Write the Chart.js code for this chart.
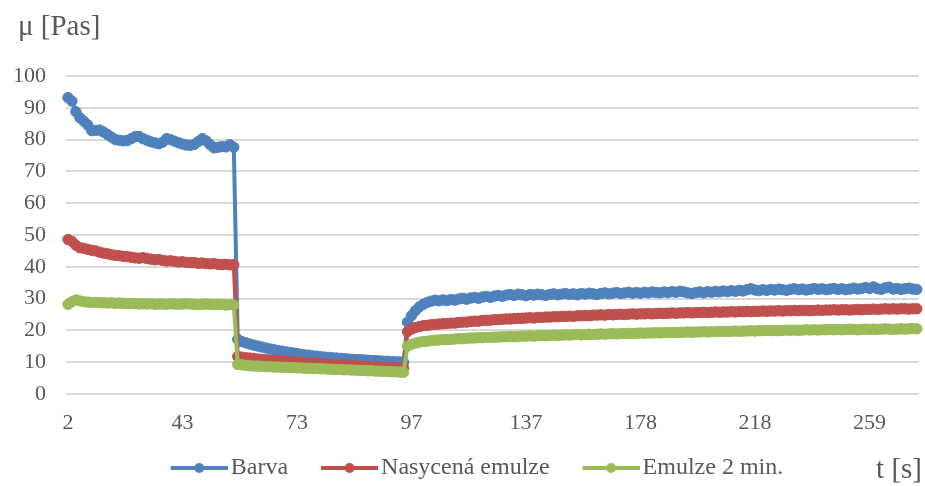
<!DOCTYPE html>
<html>
<head>
<meta charset="utf-8">
<script src="https://cdn.jsdelivr.net/npm/chart.js@4/dist/chart.umd.min.js"></script>
<style>
  html, body { margin: 0; padding: 0; background: #fff; }
  #wrap { width: 925px; height: 486px; }
</style>
</head>
<body>
<div id="wrap"><canvas id="graf" width="925" height="486"></canvas></div>
<script>
// popisky osy x (každý 29. vzorek)
var tickLabels = [2, 43, 73, 97, 137, 178, 218, 259];
var krok = 29;

var barva = [
  93.2, 92.1, 88.8, 86.9, 85.8, 84.6, 82.8, 82.9, 83.0, 82.4, 81.6, 80.8, 80.0, 79.8, 79.6, 79.7, 80.3, 80.9, 81.0, 80.3,
  79.8, 79.3, 79.0, 78.7, 79.2, 80.3, 80.0, 79.5, 79.0, 78.6, 78.3, 78.2, 78.5, 79.4, 80.3, 79.6, 78.4, 77.4, 77.6, 77.8,
  77.7, 78.4, 77.6,
  17.2, 16.5, 16.1, 15.7, 15.4, 15.1, 14.8, 14.5, 14.2, 14.0, 13.7, 13.5, 13.3, 13.1, 12.9, 12.7, 12.5, 12.3, 12.2, 12.0,
  11.9, 11.7, 11.6, 11.5, 11.4, 11.3, 11.2, 11.1, 11.0, 10.9, 10.8, 10.8, 10.7, 10.6, 10.5, 10.5, 10.4, 10.3, 10.3, 10.2,
  10.1, 10.1, 10.0,
  22.6, 24.6, 26.2, 27.4, 28.2, 28.8, 29.2, 29.5, 29.3, 29.6, 29.4, 29.7, 29.5, 29.9, 30.1, 29.8, 30.2, 30.4, 30.1, 30.5,
  30.7, 30.4, 30.8, 31.0, 30.7, 31.1, 31.3, 31.0, 31.4, 31.2, 30.9, 31.3, 31.1, 31.4, 31.2, 31.0, 31.3, 31.5, 31.2, 31.4,
  31.6, 31.3, 31.5, 31.2, 31.6, 31.4, 31.7, 31.5, 31.3, 31.6, 31.8, 31.5, 31.7, 31.9, 31.6, 31.8, 32.0, 31.7, 31.9, 31.7,
  32.0, 31.8, 32.1, 31.9, 31.8, 32.1, 31.9, 32.2, 32.0, 32.3, 32.1, 31.8, 31.6, 31.9, 32.1, 31.8, 32.2, 32.0, 32.3, 32.1,
  32.4, 32.2, 32.5, 32.3, 32.6, 32.4, 32.8, 33.1, 32.7, 32.5, 32.8, 32.6, 32.9, 32.7, 33.0, 32.8, 32.6, 32.9, 33.1, 32.8,
  33.0, 32.7, 32.9, 33.2, 32.9, 33.1, 32.8, 33.0, 33.2, 32.9, 33.1, 32.8, 33.0, 33.3, 33.0, 33.2, 33.5, 33.2, 33.7, 33.1,
  32.9, 33.4, 33.6, 33.0, 33.2, 32.9, 33.1, 33.3, 33.0, 32.9
];

var nasycena = [
  48.6, 48.0, 46.8, 46.0, 45.8, 45.5, 45.2, 45.0, 44.6, 44.3, 44.1, 43.8, 43.6, 43.5, 43.3, 43.2, 43.0, 42.8, 42.7, 42.9,
  42.6, 42.4, 42.2, 42.3, 42.0, 41.8, 41.9, 41.7, 41.5, 41.6, 41.4, 41.3, 41.3, 41.1, 41.2, 41.0, 40.9, 41.0, 40.8, 40.7,
  40.8, 40.6, 40.7,
  11.8, 11.6, 11.4, 11.3, 11.2, 11.0, 10.9, 10.8, 10.7, 10.6, 10.5, 10.4, 10.3, 10.2, 10.1, 10.0, 9.9, 9.8, 9.7, 9.7,
  9.6, 9.5, 9.4, 9.4, 9.3, 9.2, 9.1, 9.1, 9.0, 8.9, 8.9, 8.8, 8.7, 8.7, 8.6, 8.6, 8.5, 8.4, 8.4, 8.3,
  8.3, 8.2, 8.1,
  19.6, 20.4, 20.9, 21.2, 21.5, 21.6, 21.8, 21.9, 22.0, 22.1, 22.2, 22.3, 22.3, 22.5, 22.6, 22.6, 22.8, 22.9, 22.9, 23.1,
  23.2, 23.2, 23.4, 23.4, 23.5, 23.6, 23.6, 23.7, 23.8, 23.8, 23.9, 24.0, 23.9, 24.1, 24.1, 24.2, 24.2, 24.3, 24.3, 24.4,
  24.4, 24.5, 24.4, 24.6, 24.6, 24.7, 24.6, 24.8, 24.8, 24.9, 24.8, 25.0, 24.9, 25.0, 25.1, 25.0, 25.1, 25.2, 25.1, 25.2,
  25.2, 25.3, 25.2, 25.3, 25.4, 25.3, 25.4, 25.5, 25.4, 25.5, 25.5, 25.6, 25.5, 25.6, 25.6, 25.7, 25.6, 25.7, 25.8, 25.7,
  25.8, 25.8, 25.9, 25.8, 25.9, 25.9, 26.0, 25.9, 26.0, 26.0, 26.1, 26.0, 26.1, 26.1, 26.2, 26.1, 26.2, 26.2, 26.3, 26.2,
  26.3, 26.3, 26.2, 26.3, 26.4, 26.3, 26.4, 26.4, 26.5, 26.4, 26.5, 26.5, 26.4, 26.5, 26.6, 26.5, 26.6, 26.6, 26.7, 26.6,
  26.7, 26.8, 26.7, 26.8, 26.7, 26.8, 26.8, 26.7, 26.8, 26.8
];

var emulze2 = [
  28.2, 29.0, 29.6, 29.3, 29.0, 28.9, 28.8, 28.8, 28.7, 28.7, 28.6, 28.7, 28.5, 28.6, 28.5, 28.4, 28.5, 28.4, 28.3, 28.4,
  28.3, 28.4, 28.2, 28.3, 28.3, 28.2, 28.4, 28.3, 28.2, 28.3, 28.4, 28.3, 28.2, 28.1, 28.2, 28.3, 28.2, 28.1, 28.2, 28.1,
  28.0, 28.1, 28.0,
  9.3, 9.2, 9.0, 8.9, 8.8, 8.8, 8.7, 8.6, 8.6, 8.5, 8.5, 8.4, 8.4, 8.3, 8.3, 8.2, 8.2, 8.1, 8.1, 8.0,
  8.0, 7.9, 7.9, 7.8, 7.8, 7.7, 7.7, 7.6, 7.6, 7.5, 7.5, 7.4, 7.4, 7.3, 7.3, 7.2, 7.2, 7.1, 7.1, 7.0,
  7.0, 6.9, 6.8,
  15.0, 15.6, 16.0, 16.3, 16.5, 16.6, 16.8, 16.9, 17.0, 17.1, 17.1, 17.2, 17.3, 17.4, 17.4, 17.5, 17.6, 17.6, 17.7, 17.7,
  17.8, 17.8, 17.9, 17.9, 18.0, 18.0, 18.1, 18.0, 18.1, 18.2, 18.2, 18.3, 18.2, 18.3, 18.4, 18.3, 18.4, 18.5, 18.4, 18.5,
  18.6, 18.5, 18.6, 18.7, 18.6, 18.7, 18.8, 18.7, 18.8, 18.9, 18.8, 18.9, 19.0, 18.9, 19.0, 19.0, 19.1, 19.0, 19.1, 19.2,
  19.1, 19.2, 19.2, 19.3, 19.2, 19.3, 19.3, 19.4, 19.3, 19.4, 19.4, 19.5, 19.4, 19.5, 19.5, 19.6, 19.5, 19.6, 19.6, 19.7,
  19.6, 19.7, 19.7, 19.8, 19.7, 19.8, 19.8, 19.9, 19.8, 19.9, 19.9, 20.0, 19.9, 20.0, 19.9, 20.0, 20.1, 20.0, 20.1, 20.0,
  20.1, 20.2, 20.1, 20.2, 20.1, 20.2, 20.2, 20.3, 20.2, 20.3, 20.2, 20.3, 20.4, 20.3, 20.2, 20.3, 20.4, 20.3, 20.4, 20.3,
  20.4, 20.5, 20.4, 20.3, 20.4, 20.5, 20.4, 20.5, 20.6, 20.5
];

var MODRA = "#4F81BD", CERVENA = "#C0504D", ZELENA = "#9BBB59";
var PISMO = "'Liberation Serif', 'Times New Roman', serif";
var SEDA = "#595959";

// kategorie: popisek jen u každého 29. vzorku
var kategorie = barva.map(function (_, i) { return i % krok === 0 ? String(tickLabels[i / krok]) : ""; });

// symbol do legendy: čára s kolečkem, posunutá doprava k textu
var BOX = 71;
function symbol(barvaCary) {
  var c = document.createElement("canvas");
  c.width = BOX + 18; c.height = 12;
  var g = c.getContext("2d");
  var x0 = BOX - 48 + 9, x1 = BOX + 18;
  g.strokeStyle = barvaCary; g.lineWidth = 4;
  g.beginPath(); g.moveTo(x0, 6); g.lineTo(x1, 6); g.stroke();
  g.fillStyle = barvaCary;
  g.beginPath(); g.arc((x0 + x1) / 2, 6, 5, 0, Math.PI * 2); g.fill();
  return c;
}

function rada(nazev, data, barvaCary, poradi) {
  return {
    label: nazev, data: data, borderColor: barvaCary, backgroundColor: barvaCary, order: poradi,
    borderWidth: 4, tension: 0, pointRadius: 5.2, pointBorderWidth: 1,
    pointBackgroundColor: barvaCary, pointBorderColor: barvaCary, pointHoverRadius: 5.2
  };
}

var popisy = {
  id: "popisy",
  afterLayout: function (chart) {
    // legenda o kousek níž, jako v originále
    chart.legend.top += 4;
    chart.legend.bottom += 4;
  },
  afterDraw: function (chart) {
    var ctx = chart.ctx;
    ctx.save();
    ctx.fillStyle = SEDA;
    ctx.font = "29px " + PISMO;
    ctx.textBaseline = "alphabetic";
    ctx.textAlign = "left";
    ctx.fillText("\u03bc [Pas]", 18, 35);
    ctx.textAlign = "right";
    ctx.fillText("t [s]", 922, 478);
    ctx.restore();
  }
};

new Chart(document.getElementById("graf"), {
  type: "line",
  data: {
    labels: kategorie,
    datasets: [
      rada("Barva", barva, MODRA, 3),
      rada("Nasycená emulze", nasycena, CERVENA, 2),
      rada("Emulze 2 min.", emulze2, ZELENA, 1)
    ]
  },
  options: {
    responsive: false, animation: false,
    layout: { padding: { left: 10, right: 4, top: 76, bottom: 0 } },
    plugins: {
      tooltip: { enabled: false },
      legend: {
        position: "bottom",
        labels: {
          color: SEDA, font: { family: PISMO, size: 24 },
          usePointStyle: true, pointStyleWidth: BOX, padding: 10,
          generateLabels: function (chart) {
            var items = Chart.defaults.plugins.legend.labels.generateLabels(chart);
            items.sort(function (a, b) { return a.datasetIndex - b.datasetIndex; });
            items.forEach(function (it) {
              it.pointStyle = symbol(chart.data.datasets[it.datasetIndex].borderColor);
            });
            return items;
          }
        }
      }
    },
    scales: {
      x: {
        offset: true,
        afterFit: function (s) { s.height = 48; s.paddingLeft = 0; s.paddingRight = 0; },
        grid: { display: false, drawTicks: false },
        border: { display: false },
        ticks: { color: SEDA, font: { family: PISMO, size: 22 }, autoSkip: false, maxRotation: 0, padding: 16 }
      },
      y: {
        min: 0, max: 100,
        afterFit: function (s) { s.width = 56; },
        grid: { color: "#d9d9d9", lineWidth: 2, drawTicks: false },
        border: { display: false },
        ticks: { stepSize: 10, autoSkip: false, color: SEDA, font: { family: PISMO, size: 22 }, padding: 20 }
      }
    }
  },
  plugins: [popisy]
});
</script>
</body>
</html>
